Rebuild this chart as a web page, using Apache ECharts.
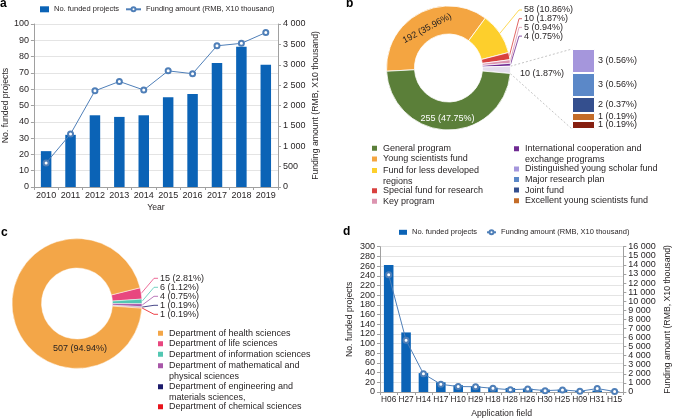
<!DOCTYPE html>
<html><head><meta charset="utf-8">
<script src="https://cdn.jsdelivr.net/npm/echarts@6/dist/echarts.min.js"></script>
<style>html,body{margin:0;padding:0;background:#fff}#c{width:674px;height:419px}</style>
</head><body><div id="c"></div>
<script>
// ---------- data ----------
const years = ['2010','2011','2012','2013','2014','2015','2016','2017','2018','2019'];
const projectsByYear = [22, 32, 44, 43, 44, 55, 57, 76, 86, 75];
const fundingByYear = [590, 1300, 2360, 2590, 2380, 2850, 2780, 3465, 3525, 3790];

const programNames = ['Young scientists fund', 'Fund for less developed regions', 'Special fund for research', 'Key program', 'International cooperation and exchange programs', 'Other programs', 'General program'];
const programCounts = [192, 58, 10, 5, 4, 10, 255];

const otherProgramNames = ['Other program', 'Excellent young scientists fund', 'Joint fund', 'Major research plan', 'Distinguished young scholar fund'];
const otherProgramCounts = [1, 1, 2, 3, 3];

const departmentNames = ['Department of life sciences', 'Department of information sciences', 'Department of mathematical and physical sciences', 'Department of engineering and materials sciences,', 'Department of chemical sciences', 'Department of health sciences'];
const departmentCounts = [15, 6, 4, 1, 1, 507];

const fieldNames = ['H06','H27','H14','H17','H10','H29','H18','H28','H26','H30','H25','H09','H31','H15'];
const fieldProjects = [262, 123, 39, 20, 14, 12, 9, 8, 7, 5, 5, 2, 3, 1];
const fieldFunding = [12900, 5700, 2000, 850, 600, 580, 400, 250, 330, 150, 230, 80, 380, 60];

const leftTicksA = {min: 0, max: 100, interval: 10};
const rightTicksA = {min: 0, max: 4000, interval: 500};
const leftTicksD = {min: 0, max: 300, interval: 20};
const rightTicksD = {min: 0, max: 16000, interval: 1000};

const S_PROJ = 'No. funded projects';
const S_FUND = 'Funding amount (RMB, X10 thousand)';

// ---------- styles / layout ----------
const FONT = 'Liberation Sans, Arial, Helvetica, sans-serif';
const BLUE = '#0b63b6';
const LINEC = '#4f7fb8';
const TXT = '#231f20';
const AXISC = '#a0a0a0';
const GRIDC = '#e4e4e4';
const programColors = ['#f4a541', '#fdcf2c', '#d9413f', '#dc94b0', '#6f2a92', '#e4dded', '#5b7f39'];
const otherProgramColors = ['#861f10', '#c46c28', '#344f8e', '#5b88c8', '#a596dc'];
const departmentColors = ['#e8477f', '#52c7b2', '#a857a8', '#1b1a6b', '#e8141c', '#f3a648'];
const legendColB = {
  col1: ['General program', 'Young scientists fund', 'Fund for less developed regions', 'Special fund for research', 'Key program'],
  col2: ['International cooperation and exchange programs', 'Distinguished young scholar fund', 'Major research plan', 'Joint fund', 'Excellent young scientists fund']
};
const legendC = ['Department of health sciences', 'Department of life sciences', 'Department of information sciences', 'Department of mathematical and physical sciences', 'Department of engineering and materials sciences,', 'Department of chemical sciences'];
const WRAP = {
  'Fund for less developed regions': 'Fund for less developed\nregions',
  'International cooperation and exchange programs': 'International cooperation and\nexchange programs',
  'Department of mathematical and physical sciences': 'Department of mathematical and\nphysical sciences',
  'Department of engineering and materials sciences,': 'Department of engineering and\nmaterials sciences,'
};

const B_CX = 448.5, B_CY = 68, B_R0 = 34, B_R1 = 62, B_START = 183;
const C_CX = 77, C_CY = 303.5, C_R0 = 35.5, C_R1 = 65, C_START = 14;
const BOP = {left: 572, top: 49, width: 23, height: 80};

const fmtK = v => String(v).replace(/\B(?=(\d{3})+(?!\d))/g, ' ');
const sum = a => a.reduce((s, v) => s + v, 0);
const programTotal = sum(programCounts);

// ---------- legends ----------
const legends = [];
const SQ = 7;
function itemLegend(name, left, yCenter, L) {
  const wrapped = !!WRAP[name];
  const lg = {
    data: [name], left: left, top: yCenter - L / 2, padding: 0, itemGap: 0,
    itemWidth: SQ, itemHeight: SQ, icon: 'rect', selectedMode: false,
    formatter: n => WRAP[n] || n,
    textStyle: {fontSize: 9, lineHeight: L, color: TXT, fontFamily: FONT}
  };
  if (wrapped) {
    // square aligned with the first text line of a two-line item
    const o = (L - SQ) / 2, h = 2 * L;
    lg.itemHeight = h;
    lg.icon = 'path://M0,' + o + 'h' + SQ + 'v' + SQ + 'h-' + SQ + 'z M0,0h0.02v0.02h-0.02z M0,' + (h - 0.02) + 'h0.02v0.02h-0.02z';
  }
  return lg;
}
function column(names, left, y0, L) {
  let y = y0;
  names.forEach(n => {
    legends.push(itemLegend(n, left, y, L));
    y += (WRAP[n] ? 2 : 1) * L;
  });
}
column(legendColB.col1, 370, 148.3, 10.6);
column(legendColB.col2, 512, 147.7, 10.6);
column(legendC, 156, 333.3, 10.5);
function seriesLegends(y, leftRect, rectW, rectH, leftLine, lineW) {
  legends.push({data: [S_PROJ], left: leftRect, top: y - 4.5, padding: 0, itemWidth: rectW, itemHeight: rectH, icon: 'rect', selectedMode: false,
    textStyle: {fontSize: 7.5, lineHeight: 9, color: TXT, fontFamily: FONT}});
  legends.push({data: [S_FUND], left: leftLine, top: y - 4.5, padding: 0, itemWidth: lineW, itemHeight: 5, selectedMode: false,
    textStyle: {fontSize: 7.5, lineHeight: 9, color: TXT, fontFamily: FONT}});
}
seriesLegends(9.3, 40, 9, 6, 125, 15);
seriesLegends(232.3, 399, 8, 5, 486, 9);

// ---------- axes ----------
const axisLine = {show: true, lineStyle: {color: AXISC, width: 1}};
const axisTick = {show: true, length: 3, lineStyle: {color: AXISC}};
const nameStyle = {fontSize: 8.7, color: TXT, fontFamily: FONT};

function catAxis(grid, data, name, gap, fs) {
  return {gridIndex: grid, type: 'category', data: data, name: name, nameLocation: 'middle', nameGap: gap,
    nameTextStyle: nameStyle, axisLine: axisLine, axisTick: axisTick,
    axisLabel: {margin: 4, interval: 0, fontSize: fs, color: TXT, fontFamily: FONT}};
}
function valAxis(grid, ticks, name, gap, pos, split) {
  return Object.assign({gridIndex: grid, type: 'value', position: pos, name: name, nameLocation: 'middle', nameGap: gap,
    nameTextStyle: nameStyle, axisLine: axisLine, axisTick: axisTick,
    axisLabel: {margin: 5, formatter: fmtK, fontSize: 9, color: TXT, fontFamily: FONT},
    splitLine: {show: split, lineStyle: {color: GRIDC, width: 1}}}, ticks);
}

// ---------- pie label layouts ----------
const B_OUTSIDE = [1, 2, 3, 4];
function layoutB(p) {
  const i = p.dataIndex;
  const slot = B_OUTSIDE.indexOf(i);
  if (slot >= 0) {
    const x = 524, y = 10 + slot * 8.7;
    const p0 = p.labelLinePoints ? p.labelLinePoints[0] : [x - 10, y];
    return {x: x, y: y, align: 'left', verticalAlign: 'middle', labelLinePoints: [p0, [x - 5, y], [x - 2, y]]};
  }
  if (i === 5) return {x: 520, y: 73.3, align: 'left', verticalAlign: 'middle'};
  if (i === 0) return {dy: 6};
  return {};
}
function layoutC(p) {
  const i = p.dataIndex;
  if (i < 5) {
    const x = 160, y = 278.3 + i * 9;
    const p0 = p.labelLinePoints ? p.labelLinePoints[0] : [x - 10, y];
    return {x: x, y: y, align: 'left', verticalAlign: 'middle', labelLinePoints: [p0, [x - 6, y], [x - 2, y]]};
  }
  return {x: C_CX + 3, y: C_CY + 45, align: 'center', verticalAlign: 'middle'};
}

// ---------- connector lines (bar-of-pie) ----------
const before = sum(programCounts.slice(0, 5));
const aS = (B_START - 360 * before / programTotal) * Math.PI / 180;
const aE = (B_START - 360 * (before + programCounts[5]) / programTotal) * Math.PI / 180;
const ptS = [B_CX + B_R1 * Math.cos(aS), B_CY - B_R1 * Math.sin(aS)];
const ptE = [B_CX + B_R1 * Math.cos(aE), B_CY - B_R1 * Math.sin(aE)];
const connStyle = {stroke: '#b5b5b5', lineWidth: 0.8, lineDash: [2, 2]};

const titleStyle = {fontSize: 12, fontWeight: 'bold', color: '#000', fontFamily: FONT};
const option = {
  animation: false,
  textStyle: {fontFamily: FONT},
  title: [
    {text: 'a', left: 0, top: -2, padding: 0, textStyle: titleStyle},
    {text: 'b', left: 346, top: -2, padding: 0, textStyle: titleStyle},
    {text: 'c', left: 1, top: 226.5, padding: 0, textStyle: titleStyle},
    {text: 'd', left: 343, top: 226, padding: 0, textStyle: titleStyle}
  ],
  legend: legends,
  grid: [
    {left: 33, top: 24, width: 245, height: 163},
    {left: 380, top: 246.7, width: 243.3, height: 146},
    {left: BOP.left, top: BOP.top, width: BOP.width, height: BOP.height}
  ],
  xAxis: [
    catAxis(0, years, 'Year', 16.5, 9),
    catAxis(1, fieldNames, 'Application field', 17, 8.3),
    {gridIndex: 2, type: 'category', data: ['other'], show: false}
  ],
  yAxis: [
    valAxis(0, leftTicksA, S_PROJ, 20.5, 'left', true),
    valAxis(0, rightTicksA, S_FUND, 33.5, 'right', false),
    valAxis(1, leftTicksD, S_PROJ, 26, 'left', true),
    valAxis(1, rightTicksD, S_FUND, 39.5, 'right', false),
    {gridIndex: 2, type: 'value', min: 0, max: sum(otherProgramCounts), show: false}
  ],
  series: [
    {type: 'bar', name: S_PROJ, xAxisIndex: 0, yAxisIndex: 0, data: projectsByYear, barWidth: '43%', itemStyle: {color: BLUE}},
    {type: 'line', name: S_FUND, xAxisIndex: 0, yAxisIndex: 1, data: fundingByYear, symbol: 'emptyCircle', symbolSize: 5,
      itemStyle: {color: LINEC, borderWidth: 1}, lineStyle: {color: LINEC, width: 1}, z: 5},
    {type: 'bar', name: S_PROJ, xAxisIndex: 1, yAxisIndex: 2, data: fieldProjects, barWidth: '55%', itemStyle: {color: BLUE}},
    {type: 'line', name: S_FUND, xAxisIndex: 1, yAxisIndex: 3, data: fieldFunding, symbol: 'emptyCircle', symbolSize: 5,
      itemStyle: {color: LINEC, borderWidth: 1}, lineStyle: {color: LINEC, width: 1}, z: 5},
    {
      type: 'pie', name: 'Programs', center: [B_CX, B_CY], radius: [B_R0, B_R1], startAngle: B_START, clockwise: true,
      avoidLabelOverlap: false,
      itemStyle: {borderColor: '#fff', borderWidth: 0.8},
      label: {formatter: '{c} ({d}%)', fontSize: 9, color: TXT, fontFamily: FONT},
      labelLine: {show: true, length: 6, length2: 6, lineStyle: {width: 0.8}},
      labelLayout: layoutB,
      data: programNames.map((n, i) => {
        const d = {name: n, value: programCounts[i], itemStyle: {color: programColors[i]}};
        if (i === 0) { d.label = {position: 'inside', rotate: 'tangential', color: TXT}; }
        else if (i === 6) { d.label = {position: 'inside', color: '#fff'}; }
        else if (i === 5) { d.labelLine = {show: false}; }
        return d;
      })
    },
    {
      type: 'pie', name: 'Departments', center: [C_CX, C_CY], radius: [C_R0, C_R1], startAngle: C_START, clockwise: true,
      avoidLabelOverlap: false,
      itemStyle: {borderColor: '#fff', borderWidth: 0.5},
      label: {formatter: '{c} ({d}%)', fontSize: 9, color: TXT, fontFamily: FONT},
      labelLine: {show: true, length: 6, length2: 6, lineStyle: {width: 0.8}},
      labelLayout: layoutC,
      data: departmentNames.map((n, i) => {
        const d = {name: n, value: departmentCounts[i], itemStyle: {color: departmentColors[i]}};
        if (i === 5) { d.label = {position: 'inside', color: TXT}; }
        return d;
      })
    }
  ].concat(otherProgramNames.map((n, i) => ({
    type: 'bar', name: n, stack: 'bop', xAxisIndex: 2, yAxisIndex: 4, barWidth: '100%',
    data: [otherProgramCounts[i]],
    itemStyle: {color: otherProgramColors[i], borderColor: '#fff', borderWidth: 1},
    label: {show: true, position: 'right', distance: 3, fontSize: 9, color: TXT, fontFamily: FONT,
      formatter: p => p.value + ' (' + (p.value / programTotal * 100).toFixed(2) + '%)'}
  }))),
  graphic: [
    {type: 'line', shape: {x1: ptS[0], y1: ptS[1], x2: BOP.left, y2: BOP.top}, style: connStyle, silent: true},
    {type: 'line', shape: {x1: ptE[0], y1: ptE[1], x2: BOP.left, y2: BOP.top + BOP.height}, style: connStyle, silent: true}
  ]
};

const chart = echarts.init(document.getElementById('c'), null, {renderer: 'canvas'});
chart.setOption(option);
</script>
</body></html>
